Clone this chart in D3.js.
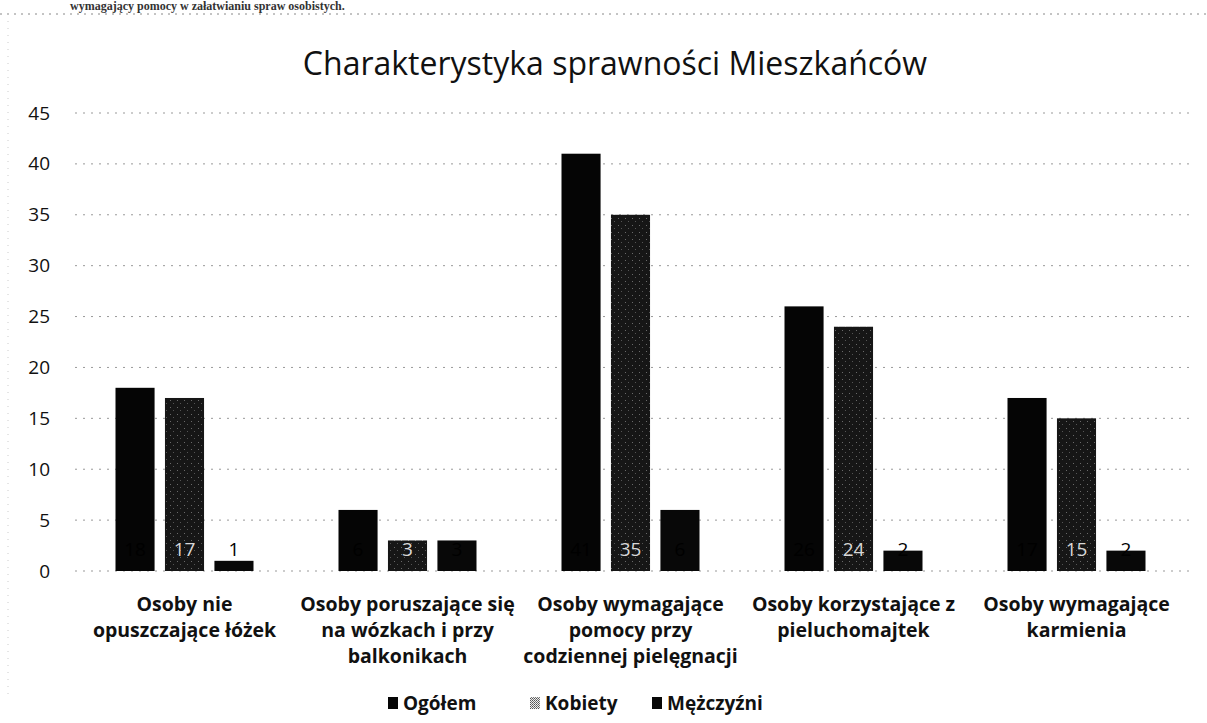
<!DOCTYPE html>
<html>
<head>
<meta charset="utf-8">
<script src="https://cdn.jsdelivr.net/npm/d3@7"></script>
<style>
  body { margin: 0; background: #fff; }
  svg { display: block; font-family: "Open Sans", sans-serif; }
</style>
</head>
<body>
<script>
var categories = [
  ["Osoby nie", "opuszczające łóżek"],
  ["Osoby poruszające się", "na wózkach i przy", "balkonikach"],
  ["Osoby wymagające", "pomocy przy", "codziennej pielęgnacji"],
  ["Osoby korzystające z", "pieluchomajtek"],
  ["Osoby wymagające", "karmienia"]
];
var seriesNames = ["Ogółem", "Kobiety", "Mężczyźni"];
var ogolem = [18, 6, 41, 26, 17];
var kobiety = [17, 3, 35, 24, 15];
var mezczyzni = [1, 3, 6, 2, 2];
var yTicks = [0, 5, 10, 15, 20, 25, 30, 35, 40, 45];

var values = [ogolem, kobiety, mezczyzni];
var fills = ["#050505", "url(#dither)", "#080808"];
var labelColors = ["#000", "#d8d8d8", "#000"];

var W = 1207, H = 723;
var svg = d3.select("body").append("svg")
  .attr("width", W)
  .attr("height", H);

// dithered fill for the "Kobiety" series
var defs = svg.append("defs");
var pat = defs.append("pattern")
  .attr("id", "dither")
  .attr("width", 7).attr("height", 7)
  .attr("patternUnits", "userSpaceOnUse");
pat.append("rect").attr("width", 7).attr("height", 7).attr("fill", "#161616");
pat.append("rect").attr("x", 2).attr("y", 1).attr("width", 1).attr("height", 1).attr("fill", "#6a6a6a");
pat.append("rect").attr("x", 5).attr("y", 4).attr("width", 1).attr("height", 1).attr("fill", "#555");
var pat2 = defs.append("pattern")
  .attr("id", "ditherLight")
  .attr("width", 2).attr("height", 2)
  .attr("patternUnits", "userSpaceOnUse");
pat2.append("rect").attr("width", 2).attr("height", 2).attr("fill", "#eee");
pat2.append("rect").attr("width", 1).attr("height", 1).attr("fill", "#555");
pat2.append("rect").attr("x", 1).attr("y", 1).attr("width", 1).attr("height", 1).attr("fill", "#777");

// heading of the scanned page, above the chart frame
svg.append("text")
  .attr("x", 70).attr("y", 10)
  .attr("font-family", "Liberation Serif, serif")
  .attr("font-weight", "bold")
  .attr("font-size", 12)
  .attr("fill", "#333")
  .text("wymagający pomocy w załatwianiu spraw osobistych.");

// chart frame (dotted, like the scan)
svg.append("line")
  .attr("x1", 0).attr("x2", W).attr("y1", 14).attr("y2", 14)
  .attr("stroke", "#888").attr("stroke-dasharray", "2,5");
svg.append("line")
  .attr("x1", 8).attr("x2", 8).attr("y1", 14).attr("y2", 700)
  .attr("stroke", "#ccc").attr("stroke-dasharray", "1,6");

var x = d3.scaleBand()
  .domain(d3.range(categories.length))
  .range([73, 1188]);

var xs = d3.scaleBand()
  .domain(d3.range(seriesNames.length))
  .range([42.5, 180.5])
  .paddingInner(0.21);

var y = d3.scaleLinear()
  .domain([0, 45])
  .range([571, 113]);

// title
svg.append("text")
  .attr("x", 615).attr("y", 75)
  .attr("text-anchor", "middle")
  .attr("font-size", 32)
  .attr("fill", "#111")
  .text("Charakterystyka sprawności Mieszkańców");

// gridlines
svg.append("g").selectAll("line").data(yTicks)
  .enter().append("line")
  .attr("x1", 75).attr("x2", 1195)
  .attr("y1", d => y(d)).attr("y2", d => y(d))
  .attr("stroke", "#999")
  .attr("stroke-width", 1)
  .attr("stroke-dasharray", "2,6");

// y axis labels
var yAxis = d3.axisLeft(y).tickValues(yTicks).tickSize(0).tickPadding(0);
var ya = svg.append("g")
  .attr("transform", "translate(50,0)")
  .call(yAxis);
ya.select(".domain").remove();
ya.selectAll("text")
  .attr("font-family", "Open Sans, sans-serif")
  .attr("font-size", 19)
  .attr("fill", "#111");

// bars
values.forEach(function(vals, s) {
  var g = svg.append("g");
  g.selectAll("rect").data(vals)
    .enter().append("rect")
    .attr("x", (d, i) => x(i) + xs(s))
    .attr("y", d => y(d))
    .attr("width", xs.bandwidth())
    .attr("height", d => y(0) - y(d))
    .attr("fill", fills[s]);
});

// data labels at bar base
values.forEach(function(vals, s) {
  svg.append("g").selectAll("text").data(vals)
    .enter().append("text")
    .attr("x", (d, i) => x(i) + xs(s) + xs.bandwidth() / 2)
    .attr("y", y(0) - 15)
    .attr("text-anchor", "middle")
    .attr("font-size", 19)
    .attr("fill", labelColors[s])
    .text(d => d);
});

// category labels
categories.forEach(function(lines, i) {
  var t = svg.append("text")
    .attr("x", x(i) + x.bandwidth() / 2)
    .attr("y", 611)
    .attr("text-anchor", "middle")
    .attr("font-size", 19.5)
    .attr("font-weight", "bold")
    .attr("fill", "#111");
  t.selectAll("tspan").data(lines)
    .enter().append("tspan")
    .attr("x", x(i) + x.bandwidth() / 2)
    .attr("dy", (d, j) => j === 0 ? 0 : 26)
    .text(d => d);
});

// legend
var legendX = [388, 530, 652];
var legendFill = ["#050505", "url(#ditherLight)", "#080808"];
var lg = svg.append("g");
seriesNames.forEach(function(name, s) {
  lg.append("rect")
    .attr("x", legendX[s]).attr("y", 697)
    .attr("width", 10).attr("height", 12)
    .attr("fill", legendFill[s]);
  lg.append("text")
    .attr("x", legendX[s] + 15).attr("y", 710)
    .attr("font-size", 19)
    .attr("font-weight", "bold")
    .attr("fill", "#111")
    .text(name);
});
</script>
</body>
</html>
